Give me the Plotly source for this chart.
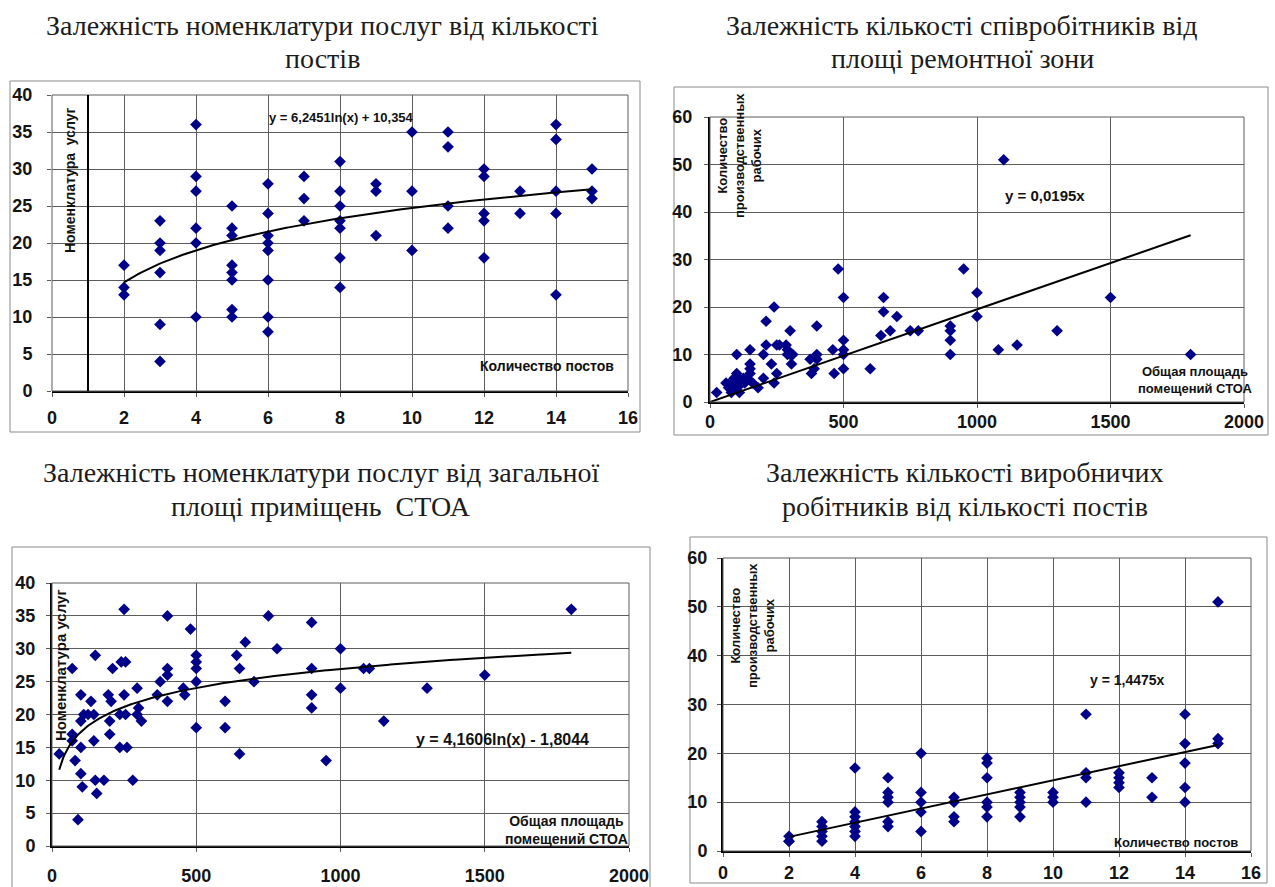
import numpy as np
import plotly.graph_objects as go

W, H = 1275, 887

# ---- Panel 1: service nomenclature vs number of posts ----
p1_posts = [2, 2, 2,
            3, 3, 3, 3, 3, 3,
            4, 4, 4, 4, 4, 4,
            5, 5, 5, 5, 5, 5, 5, 5,
            6, 6, 6, 6, 6, 6, 6, 6,
            7, 7, 7,
            8, 8, 8, 8, 8, 8, 8,
            9, 9, 9,
            10, 10, 10,
            11, 11, 11, 11,
            12, 12, 12, 12, 12,
            13, 13,
            14, 14, 14, 14, 14,
            15, 15, 15]
p1_services = [17, 14, 13,
               23, 20, 19, 16, 9, 4,
               36, 29, 27, 22, 20, 10,
               25, 22, 21, 17, 16, 15, 11, 10,
               28, 24, 21, 20, 19, 15, 10, 8,
               29, 26, 23,
               31, 27, 25, 23, 22, 18, 14,
               28, 27, 21,
               35, 27, 19,
               35, 33, 25, 22,
               30, 29, 24, 23, 18,
               27, 24,
               36, 34, 27, 24, 13,
               30, 27, 26]
p1_coef_a, p1_coef_b = 6.2451, 10.354
p1_trend_range = (2, 15)

# ---- Panel 2: workers vs repair-zone area ----
p2_area = [25, 60, 70, 75, 80, 90, 95, 100, 100, 100,
           105, 110, 110, 120, 125, 130, 140, 150, 150, 150,
           150, 160, 180, 200, 200, 210, 210, 230, 240, 240,
           250, 250, 260, 285, 290, 300, 300, 305, 310, 290,
           375, 380, 390, 400, 400, 400, 460, 465, 480, 500,
           500, 500, 500, 500, 600, 640, 650, 650, 675, 700,
           750, 780, 900, 900, 900, 900, 950, 1000, 1000, 1080,
           1100, 1150, 1300, 1500, 1800]
p2_workers = [2, 4, 3, 4, 2, 5, 4, 6, 10, 3,
              5, 2, 4, 4, 5, 4, 5, 6, 7, 8,
              11, 4, 3, 5, 10, 12, 17, 8, 20, 4,
              12, 6, 12, 12, 11, 15, 10, 8, 10, 10,
              9, 6, 7, 16, 10, 9, 11, 6, 28, 22,
              13, 11, 10, 7, 7, 14, 22, 19, 15, 18,
              15, 15, 16, 15, 13, 10, 28, 23, 18, 11,
              51, 12, 15, 22, 10]
p2_slope = 0.0195
p2_trend_range = (0, 1800)

# ---- Panel 3: service nomenclature vs total area ----
p3_area = [25, 70, 70, 70, 80, 90, 100, 100, 100, 100,
           105, 110, 125, 135, 145, 145, 150, 150, 155, 180,
           195, 200, 200, 205, 210, 235, 260, 240, 255, 250,
           250, 235, 255, 280, 295, 300, 295, 310, 365, 375,
           400, 400, 400, 400, 455, 460, 480, 500, 500, 500,
           500, 500, 600, 600, 640, 650, 650, 670, 700, 750,
           780, 900, 900, 900, 900, 950, 1000, 1000, 1080, 1100,
           1150, 1300, 1500, 1800]
p3_services = [14, 27, 17, 16, 13, 4, 23, 19, 15, 11,
               9, 20, 20, 22, 20, 16, 29, 10, 8, 10,
               23, 17, 19, 22, 27, 15, 15, 28, 28, 36,
               23, 20, 20, 10, 24, 21, 20, 19, 23, 25,
               35, 27, 26, 22, 24, 23, 33, 29, 28, 27,
               25, 18, 22, 18, 29, 27, 14, 31, 25, 35,
               30, 34, 27, 23, 21, 13, 30, 24, 27, 27,
               19, 24, 26, 36]
p3_coef_a, p3_coef_b = 4.1606, -1.8044
p3_trend_range = (25, 1800)

# ---- Panel 4: workers vs number of posts ----
p4_posts = [2, 2, 2,
            3, 3, 3, 3, 3,
            4, 4, 4, 4, 4, 4, 4,
            5, 5, 5, 5, 5, 5,
            6, 6, 6, 6, 6,
            7, 7, 7, 7,
            8, 8, 8, 8, 8, 8,
            9, 9, 9, 9, 9,
            10, 10, 10,
            11, 11, 11, 11,
            12, 12, 12, 12,
            13, 13,
            14, 14, 14, 14, 14,
            15, 15, 15]
p4_workers = [3, 2, 2,
              6, 5, 4, 3, 2,
              17, 8, 7, 6, 5, 4, 3,
              15, 12, 11, 10, 6, 5,
              20, 12, 10, 8, 4,
              11, 10, 7, 6,
              19, 18, 15, 10, 9, 7,
              12, 11, 10, 9, 7,
              12, 11, 10,
              28, 16, 15, 10,
              16, 15, 14, 13,
              15, 11,
              28, 22, 18, 13, 10,
              51, 23, 22]
p4_slope = 1.4475
p4_trend_range = (2, 15)

# ---- styling ----
MARKER = dict(symbol="diamond", size=9, color="#000088", line=dict(width=0))
TREND = dict(color="black", width=2)
GRID = "#5c5c5c"
TICK_FONT = dict(family="Liberation Sans Narrow, Liberation Sans, Arial", size=18,
                 color="#141414", weight="bold")
LABEL_FAMILY = "Liberation Sans Narrow, Liberation Sans, Arial"
SERIF = "Liberation Serif, Times New Roman, serif"


def px_x(v):
    return v / W


def px_y(v):
    return 1 - v / H


fig = go.Figure()

t1 = np.linspace(*p1_trend_range, 200)
t2 = np.linspace(*p2_trend_range, 2)
t3 = np.linspace(*p3_trend_range, 400)
t4 = np.linspace(*p4_trend_range, 2)

fig.add_trace(go.Scatter(x=p1_posts, y=p1_services, mode="markers", marker=MARKER,
                         xaxis="x", yaxis="y"))
fig.add_trace(go.Scatter(x=t1, y=p1_coef_a * np.log(t1) + p1_coef_b, mode="lines",
                         line=TREND, xaxis="x", yaxis="y"))

fig.add_trace(go.Scatter(x=p2_area, y=p2_workers, mode="markers", marker=MARKER,
                         xaxis="x2", yaxis="y2"))
fig.add_trace(go.Scatter(x=t2, y=p2_slope * t2, mode="lines", line=TREND,
                         xaxis="x2", yaxis="y2"))

fig.add_trace(go.Scatter(x=p3_area, y=p3_services, mode="markers", marker=MARKER,
                         xaxis="x3", yaxis="y3"))
fig.add_trace(go.Scatter(x=t3, y=p3_coef_a * np.log(t3) + p3_coef_b, mode="lines",
                         line=TREND, xaxis="x3", yaxis="y3"))

fig.add_trace(go.Scatter(x=p4_posts, y=p4_workers, mode="markers", marker=MARKER,
                         xaxis="x4", yaxis="y4"))
fig.add_trace(go.Scatter(x=t4, y=p4_slope * t4, mode="lines", line=TREND,
                         xaxis="x4", yaxis="y4"))


def xaxis(dom, rng, dtick, anchor, standoff):
    return dict(domain=[px_x(dom[0]), px_x(dom[1])], range=rng, dtick=dtick, tick0=0,
                anchor=anchor, showgrid=True, gridcolor=GRID, gridwidth=1,
                zeroline=False, showline=True, linecolor="black", linewidth=2,
                ticks="outside", ticklen=4, tickcolor=GRID, tickfont=TICK_FONT,
                ticklabelstandoff=standoff, automargin=False, fixedrange=True)


def yaxis(dom, rng, dtick, anchor, standoff, line=True):
    return dict(domain=[px_y(dom[1]), px_y(dom[0])], range=rng, dtick=dtick, tick0=0,
                anchor=anchor, showgrid=True, gridcolor=GRID, gridwidth=1,
                zeroline=False, showline=line, linecolor="black", linewidth=2,
                ticks="outside", ticklen=4, tickcolor=GRID, tickfont=TICK_FONT,
                ticklabelstandoff=standoff, automargin=False, fixedrange=True)


fig.update_layout(
    width=W, height=H, margin=dict(l=0, r=0, t=0, b=0, autoexpand=False),
    paper_bgcolor="white", plot_bgcolor="white", showlegend=False,
    xaxis=xaxis((52, 628), [0, 16], 2, "y", 5),
    yaxis=yaxis((95, 391), [0, 40], 5, "x", 11, line=False),
    xaxis2=xaxis((710, 1244), [0, 2000], 500, "y2", -2),
    yaxis2=yaxis((117, 402), [0, 60], 10, "x2", 8),
    xaxis3=xaxis((52, 629), [0, 2000], 500, "y3", 8),
    yaxis3=yaxis((583, 846), [0, 40], 5, "x3", 7),
    xaxis4=xaxis((723, 1251), [0, 16], 2, "y4", 0),
    yaxis4=yaxis((558, 851), [0, 60], 10, "x4", 6),
)

shapes = []
# chart frames
for (x0, y0, x1, y1) in [(10, 81, 640, 432), (674, 87, 1268, 435),
                         (12, 547, 650, 895), (690, 537, 1267, 883)]:
    shapes.append(dict(type="rect", xref="paper", yref="paper",
                       x0=px_x(x0), x1=px_x(x1), y0=px_y(y1), y1=px_y(y0),
                       line=dict(color="#8a8a8a", width=1), layer="below"))
# plot-area borders
for xr, yr in [("x", "y"), ("x2", "y2"), ("x3", "y3"), ("x4", "y4")]:
    shapes.append(dict(type="rect", xref=f"{xr} domain", yref=f"{yr} domain",
                       x0=0, x1=1, y0=0, y1=1, line=dict(color=GRID, width=1)))
# vertical axis of panel 1 crosses at one post
shapes.append(dict(type="line", xref="x", yref="y", x0=1, x1=1, y0=0, y1=40,
                   line=dict(color="black", width=2)))
fig.update_layout(shapes=shapes)

ann = []


def label(text, x, y, size, angle=0, family=LABEL_FAMILY, bold=True, color="#111111"):
    ann.append(dict(text=f"<b>{text}</b>" if bold else text, x=px_x(x), y=px_y(y),
                    xref="paper", yref="paper", showarrow=False, textangle=angle,
                    xanchor="center", yanchor="middle", align="center",
                    font=dict(family=family, size=size, color=color)))


def title(lines, x, ys):
    for line, y in zip(lines, ys):
        label(line, x, y, 28, family=SERIF, bold=False, color="#1c1c1c")


title(["Залежність номенклатури послуг від кількості", "постів"], 322, (26, 59))
title(["Залежність кількості співробітників від", "площі ремонтної зони"], 962, (26, 59))
title(["Залежність номенклатури послуг від загальної", "площі приміщень  СТОА"], 321, (472, 507))
title(["Залежність кількості виробничих", "робітників від кількості постів"], 965, (472, 507))

# trend equations
label("y = 6,2451ln(x) + 10,354", 341, 118, 13)
label("y = 0,0195x", 1045, 195, 15)
label("y = 4,1606ln(x) - 1,8044", 502, 739, 16)
label("y = 1,4475x", 1127, 680, 14)

# axis titles
label("Количество постов", 547, 366, 14)
label("Номенклатура  услуг", 70, 180, 14, angle=-90)
label("Общая площадь<br>помещений СТОА", 1195, 380, 13)
label("Количество<br>производственных<br>рабочих", 740, 156, 13, angle=-90)
label("Общая площадь<br>помещений СТОА", 566, 830, 14)
label("Номенклатура услуг", 60, 665, 15, angle=-90)
label("Количество постов", 1176, 842, 13)
label("Количество<br>производственных<br>рабочих", 752, 626, 13, angle=-90)

fig.update_layout(annotations=ann)

fig.write_html("out.html")
